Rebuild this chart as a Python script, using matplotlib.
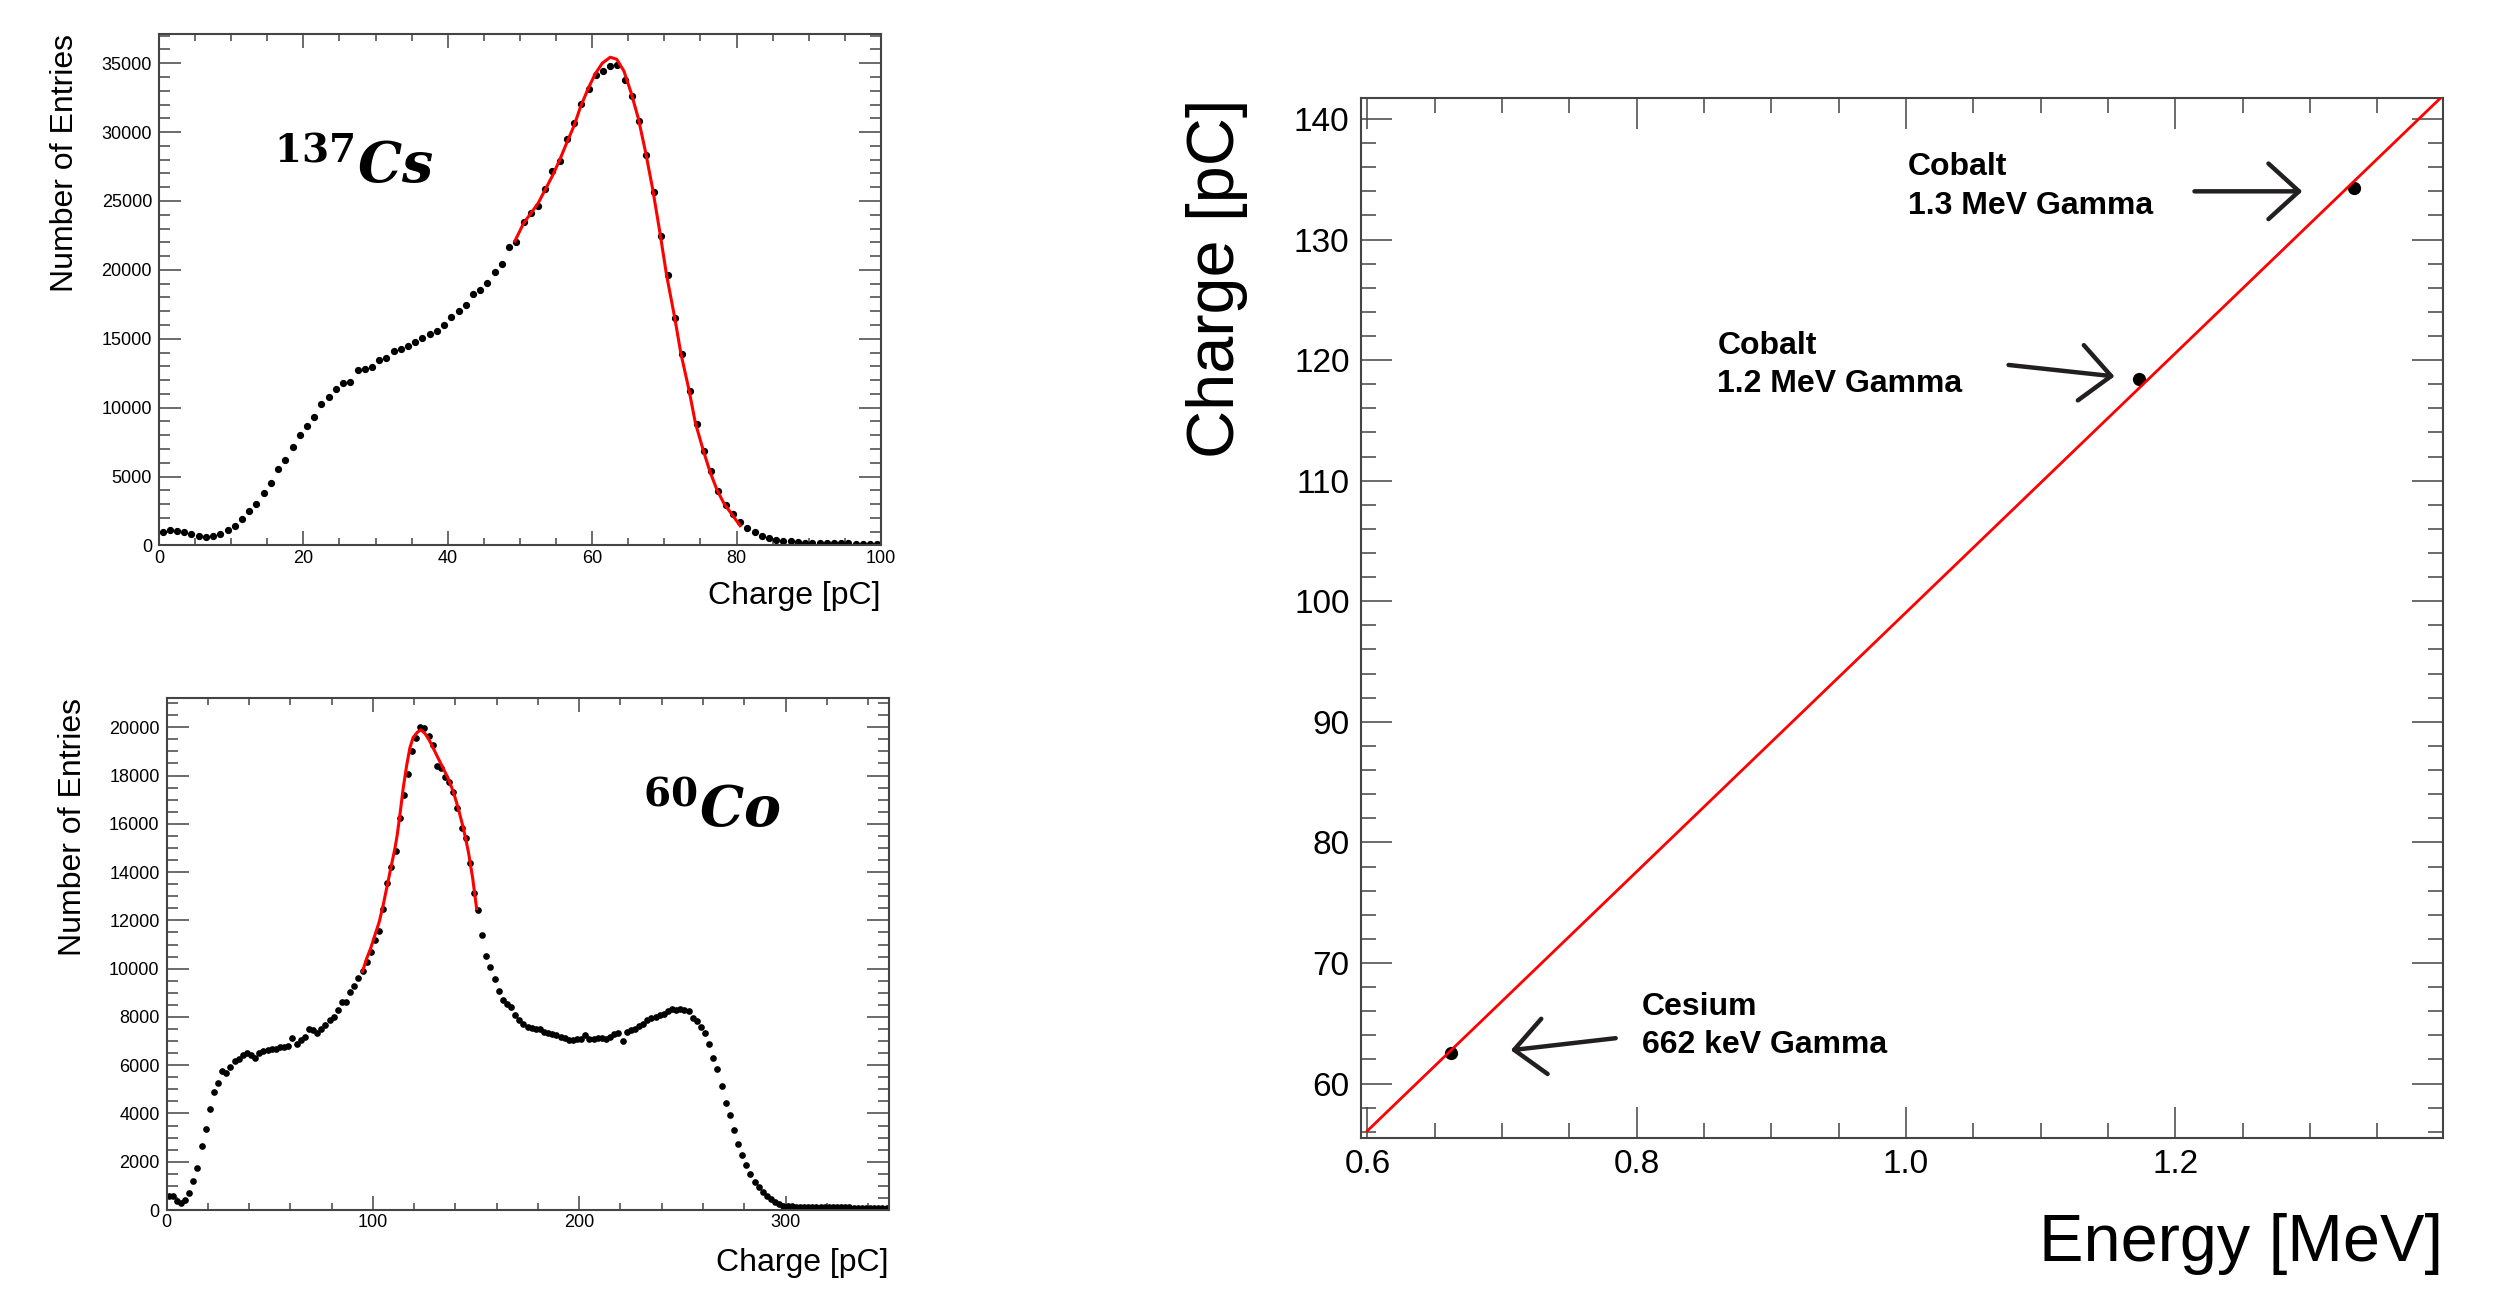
import numpy as np
import matplotlib
matplotlib.use("Agg")
import matplotlib.pyplot as plt
from matplotlib.ticker import MultipleLocator, FormatStrFormatter

plt.rcParams['font.family'] = ['Liberation Sans', 'DejaVu Sans']
plt.rcParams['mathtext.fontset'] = 'dejavuserif'

# Cs-137 charge spectrum (1 pC bins)
cs_charge = np.arange(0.5, 100, 1.0)
cs_entries = [1000, 1150, 1060, 1000, 800, 720, 630, 660, 860, 1150,
              1380, 1920, 2520, 3010, 3840, 4560, 5540, 6220, 7110, 8030,
              8690, 9320, 10240, 10760, 11330, 11760, 11850, 12710, 12770, 12940,
              13450, 13630, 14110, 14260, 14490, 14740, 15030, 15350, 15550, 16010,
              16550, 16980, 17440, 18220, 18560, 19050, 19850, 20450, 21630, 22030,
              23470, 24100, 24610, 25870, 27160, 27910, 29490, 30670, 32020, 33100,
              34140, 34420, 34770, 34860, 33800, 32590, 30840, 28310, 25620, 22460,
              19620, 16520, 13860, 11220, 8810, 6880, 5390, 3960, 2950, 2290,
              1720, 1290, 950, 720, 520, 430, 340, 290, 230, 200,
              190, 180, 170, 160, 150, 150, 140, 140, 130, 130]

# Cs-137 fit curve
cs_fit_x = [49.3, 50.5, 51.5, 52.5, 53.5, 54.5, 55.5, 56.4, 57.5, 58.4, 59.5, 60.4,
            61.4, 62.5, 63.4, 64.4, 65.4, 66.4, 67.4, 68.4, 69.4, 70.3, 71.4, 72.3,
            73.4, 74.3, 75.4, 76.3, 77.3, 78.3, 79.3, 80.5]
cs_fit_y = [22090, 23380, 24100, 24820, 25820, 26830, 27970, 29120, 30470, 31850, 33220, 34200,
            35000, 35430, 35290, 34430, 32850, 30990, 28550, 25820, 22670, 19650, 16640, 13910,
            11330, 8890, 6890, 5390, 4020, 3010, 2300, 1430]

# Co-60 charge spectrum (2 pC bins)
co_charge = np.arange(1, 350, 2)
co_entries = [601, 574, 394, 297, 436, 712, 1224, 1749, 2648, 3339,
              4169, 4888, 5275, 5745, 5690, 5925, 6160, 6243, 6409, 6519,
              6409, 6298, 6519, 6575, 6616, 6658, 6685, 6754, 6754, 6796,
              7141, 6892, 7030, 7169, 7514, 7446, 7349, 7514, 7652, 7860,
              7998, 8275, 8600, 8620, 9035, 9284, 9630, 9892, 10280, 10695,
              11180, 11580, 12490, 13530, 14220, 14870, 16230, 17190, 18080, 19020,
              19570, 20030, 19960, 19650, 19270, 18410, 18300, 17950, 17720, 17300,
              16670, 15840, 15420, 14360, 13150, 12410, 11410, 10530, 10070, 9560,
              9065, 8690, 8550, 8410, 8070, 7860, 7700, 7580, 7545, 7514,
              7487, 7376, 7349, 7307, 7265, 7169, 7127, 7058, 7030, 7100,
              7072, 7238, 7100, 7100, 7127, 7127, 7100, 7169, 7307, 7349,
              6990, 7376, 7446, 7514, 7610, 7720, 7860, 7958, 8000, 8066,
              8137, 8230, 8345, 8275, 8345, 8275, 8230, 7958, 7820, 7600,
              7330, 6890, 6298, 5828, 5137, 4446, 3948, 3298, 2745, 2289,
              1846, 1473, 1155, 947, 740, 601, 463, 325, 256, 187,
              160, 150, 145, 140, 135, 130, 130, 125, 125, 120,
              120, 115, 115, 110, 110, 110, 105, 105, 105, 100,
              100, 100, 100, 100, 100]

# Co-60 fit curve
co_fit_x = [95.0, 97.0, 98.9, 101.0, 103.1, 105.0, 107.0, 109.0, 110.7, 111.8, 113.1, 114.7,
            116.3, 117.9, 119.5, 121.5, 123.3, 125.2, 127.3, 129.3, 131.7, 134.1, 136.5,
            139.0, 141.4, 143.9, 146.3, 148.4, 150.3]
co_fit_y = [9890, 10420, 10830, 11390, 11940, 12630, 13460, 14290, 14980, 15530, 16360, 17470,
            18370, 19130, 19570, 19790, 19890, 19750, 19470, 19130, 18710, 18300, 17880,
            17330, 16640, 15810, 14840, 13740, 12490]

# calibration points
energy = [0.662, 1.173, 1.333]
charge = [62.56, 118.43, 134.27]
labels = ['Cesium\n662 keV Gamma', 'Cobalt\n1.2 MeV Gamma', 'Cobalt\n1.3 MeV Gamma']

fig = plt.figure(figsize=(25.04, 12.91), dpi=100)

frame_col = '#444444'


def root_style(ax, xmaj, xmin, ymaj, ymin, xlen, ylen, size):
    ax.xaxis.set_major_locator(MultipleLocator(xmaj))
    ax.xaxis.set_minor_locator(MultipleLocator(xmin))
    ax.yaxis.set_major_locator(MultipleLocator(ymaj))
    ax.yaxis.set_minor_locator(MultipleLocator(ymin))
    ax.tick_params(axis='x', which='major', direction='in', top=True, length=xlen,
                   width=1.1, color=frame_col, labelsize=size)
    ax.tick_params(axis='x', which='minor', direction='in', top=True, length=xlen / 2,
                   width=1.1, color=frame_col)
    ax.tick_params(axis='y', which='major', direction='in', right=True, length=ylen,
                   width=1.1, color=frame_col, labelsize=size)
    ax.tick_params(axis='y', which='minor', direction='in', right=True, length=ylen / 2,
                   width=1.1, color=frame_col)
    for s in ax.spines.values():
        s.set_color(frame_col)
        s.set_linewidth(1.5)


# --- Cs-137 spectrum ---
ax1 = fig.add_axes([0.0635, 0.5775, 0.2883, 0.3965])
ax1.plot(cs_charge, cs_entries, 'o', color='black', markersize=4.2, zorder=2)
ax1.plot(cs_fit_x, cs_fit_y, color='red', lw=2.2, zorder=3)
ax1.set_xlim(0, 100)
ax1.set_ylim(0, 37150)
root_style(ax1, 20, 5, 5000, 1000, 10, 16, 13)
ax1.tick_params(axis='x', pad=3)
ax1.tick_params(axis='y', pad=5)
ax1.text(-0.13, 1.0, 'Number of Entries', rotation=90, ha='center', va='top',
         fontsize=23, transform=ax1.transAxes)
ax1.text(1.0, -0.099, 'Charge [pC]', ha='right', va='center', fontsize=23,
         transform=ax1.transAxes)
ax1.text(15.9, 26330, r'$^{\mathbf{137}}\mathbfit{Cs}$', fontsize=40, ha='left', va='baseline')

# --- Co-60 spectrum ---
ax2 = fig.add_axes([0.0665, 0.0627, 0.2884, 0.3964])
ax2.plot(co_charge, co_entries, 'o', color='black', markersize=3.8, zorder=2)
ax2.plot(co_fit_x, co_fit_y, color='red', lw=2.2, zorder=3)
ax2.set_xlim(0, 350)
ax2.set_ylim(0, 21200)
root_style(ax2, 100, 20, 2000, 500, 10, 16, 13)
ax2.tick_params(axis='x', pad=3)
ax2.tick_params(axis='y', pad=5)
ax2.text(-0.1295, 1.0, 'Number of Entries', rotation=90, ha='center', va='top',
         fontsize=23, transform=ax2.transAxes)
ax2.text(1.0, -0.104, 'Charge [pC]', ha='right', va='center', fontsize=23,
         transform=ax2.transAxes)
ax2.text(231, 15870, r'$^{\mathbf{60}}\mathbfit{Co}$', fontsize=40, ha='left', va='baseline')

# --- calibration ---
ax3 = fig.add_axes([0.5434, 0.1185, 0.4323, 0.8053])
slope, intercept = np.polyfit(energy, charge, 1)
line_x = np.array([0.6, 1.45])
ax3.plot(energy, charge, 'o', color='black', markersize=8.5, zorder=2)
ax3.plot(line_x, intercept + slope * line_x, color='red', lw=2.0, zorder=3)
ax3.set_xlim(0.595, 1.399)
ax3.set_ylim(55.48, 141.71)
root_style(ax3, 0.2, 0.05, 10, 2, 22, 22, 24)
ax3.xaxis.set_major_formatter(FormatStrFormatter('%.1f'))
ax3.tick_params(axis='both', which='major', pad=8)
ax3.text(-0.1327, 1.0, 'Charge [pC]', rotation=90, ha='center', va='top',
         fontsize=48, transform=ax3.transAxes)
ax3.text(1.0, -0.102, 'Energy [MeV]', ha='right', va='center', fontsize=48,
         transform=ax3.transAxes)

text_pos = [(0.8036, 64.8), (0.860, 119.6), (1.0012, 134.4)]
arrow_tail = [(0.7844, 63.76), (1.0762, 119.6), (1.2143, 134.0)]
arrow_tip = [(0.7065, 62.76), (1.1549, 118.65), (1.2944, 134.0)]
for lab, tp, tail, tip in zip(labels, text_pos, arrow_tail, arrow_tip):
    ax3.text(tp[0], tp[1], lab, fontsize=23, fontweight='bold', ha='left', va='center',
             linespacing=1.35)
    ax3.annotate('', xy=tip, xytext=tail,
                 arrowprops=dict(arrowstyle='->,head_length=2.2,head_width=2.0',
                                 lw=3.2, color='#231f20', shrinkA=0, shrinkB=0,
                                 mutation_scale=10))

plt.savefig('out.png', dpi=100)
